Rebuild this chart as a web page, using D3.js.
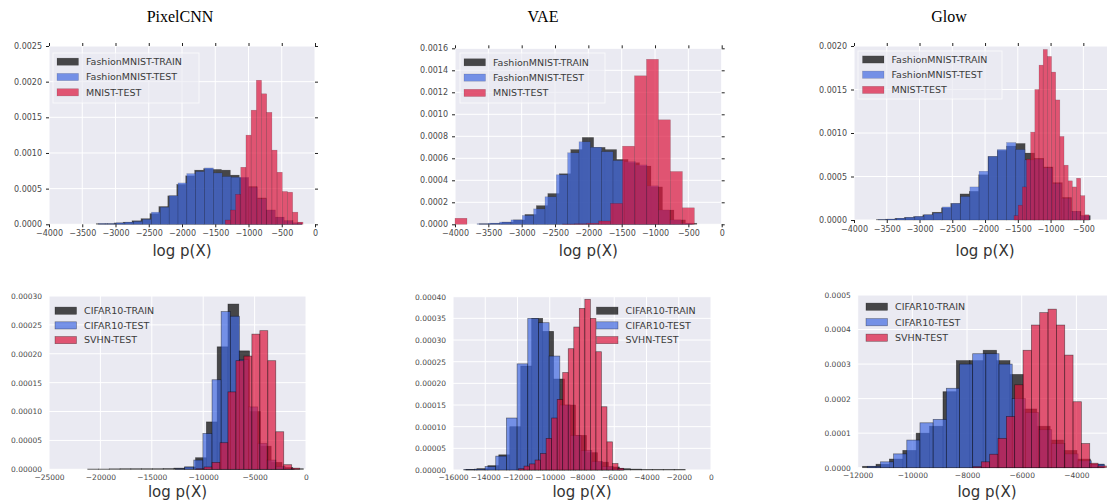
<!DOCTYPE html>
<html>
<head>
<meta charset="utf-8">
<script src="https://cdn.jsdelivr.net/npm/d3@7"></script>
<style>
body { margin: 0; background: #fff; }
svg { display: block; }
</style>
</head>
<body>
<svg id="chart" width="1107" height="504"></svg>
<script>
var titles = ["PixelCNN", "VAE", "Glow"];
var xLabel = "log p(X)";
var topNames = ["FashionMNIST-TRAIN", "FashionMNIST-TEST", "MNIST-TEST"];
var bottomNames = ["CIFAR10-TRAIN", "CIFAR10-TEST", "SVHN-TEST"];

// each histogram: [first bin edge, bin width] + densities per bin
var pcnnFmTrainBins = [-3290, 134.5];
var pcnnFmTrain = [0.00001, 0.00001, 0.00002, 0.00003, 0.00005, 0.00008, 0.00015, 0.00025, 0.0004, 0.00056, 0.00068, 0.00076, 0.00078, 0.00077, 0.00076, 0.00069, 0.00065, 0.00053, 0.00037, 0.0002, 0.0001, 0.00005, 0.00002];
var pcnnFmTestBins = [-3257, 133];
var pcnnFmTest = [0.00001, 0.00001, 0.00002, 0.00003, 0.00004, 0.00007, 0.00017, 0.00024, 0.0004, 0.00058, 0.00071, 0.00074, 0.00079, 0.00072, 0.00067, 0.00066, 0.00066, 0.00052, 0.00036, 0.0002, 0.0001, 0.00005, 0.00002];
var pcnnMnistBins = [-1350, 78];
var pcnnMnist = [0.00006, 0.0002, 0.00042, 0.0008, 0.00125, 0.0016, 0.00202, 0.00183, 0.00157, 0.00104, 0.00073, 0.00046, 0.00045, 0.00017, 0.00003];

var vaeFmTrainBins = [-3640, 172];
var vaeFmTrain = [0.000005, 0.00001, 0.00002, 0.00004, 0.00009, 0.00017, 0.00028, 0.00046, 0.00068, 0.00079, 0.0007, 0.00068, 0.00059, 0.00056, 0.00053, 0.00034, 0.00013, 0.00004, 0.00001];
var vaeFmTestBins = [-3670, 170];
var vaeFmTest = [0.000005, 0.00001, 0.00002, 0.00004, 0.00008, 0.00014, 0.00025, 0.00045, 0.00065, 0.00075, 0.0007, 0.00066, 0.00058, 0.00057, 0.00054, 0.00035, 0.00013, 0.00004, 0.00001];
var vaeMnistBins = [-4000, 179.5];
var vaeMnist = [0.000055, 0, 0, 0, 0, 0, 0, 0, 0, 0.000003, 0.000005, 0.00001, 0.00003, 0.00019, 0.00071, 0.00135, 0.0015, 0.00095, 0.00048, 0.00015];

var glowFmTrainBins = [-3660, 142];
var glowFmTrain = [0.000005, 0.00001, 0.00002, 0.00003, 0.00004, 0.00006, 0.00009, 0.00014, 0.00019, 0.0003, 0.00033, 0.00052, 0.00073, 0.0008, 0.00085, 0.00088, 0.00077, 0.00071, 0.00061, 0.00043, 0.00026, 0.0001, 0.00005];
var glowFmTestBins = [-3631, 140];
var glowFmTest = [0.000005, 0.00001, 0.00002, 0.00003, 0.00004, 0.00006, 0.00008, 0.00015, 0.00019, 0.00027, 0.00038, 0.00056, 0.00073, 0.00081, 0.00089, 0.00081, 0.00069, 0.0007, 0.0006, 0.00042, 0.00025, 0.0001, 0.00005];
var glowMnistBins = [-1558, 63.6];
var glowMnist = [0.00005, 0.00017, 0.00038, 0.0007, 0.00101, 0.0015, 0.00178, 0.00196, 0.00188, 0.0017, 0.00138, 0.00096, 0.00063, 0.00045, 0.00038, 0.00048, 0.00028, 0.00006];

var pcnnCifarTrainBins = [-21240, 1050];
var pcnnCifarTrain = [0.0000005, 0.0000005, 0.0000008, 0.000001, 0.000001, 0.000001, 0.000001, 0.0000012, 0.000002, 0.000004, 0.00002, 0.000082, 0.000212, 0.000286, 0.000205, 0.0001, 0.00004, 0.000012, 0.000003, 0.000001];
var pcnnCifarTestBins = [-12693, 888];
var pcnnCifarTest = [0.000001, 0.000004, 0.000016, 0.000062, 0.000155, 0.000273, 0.000265, 0.00019, 0.000108, 0.000045, 0.000016, 0.000005, 0.000001];
var pcnnSvhnBins = [-10690, 775];
var pcnnSvhn = [0.000001, 0.000004, 0.000012, 0.000046, 0.000134, 0.000188, 0.000196, 0.000234, 0.00024, 0.000188, 0.000065, 0.000008, 0.000002];

var vaeCifarTrainBins = [-15200, 680];
var vaeCifarTrain = [0.000001, 0.000003, 0.00001, 0.000035, 0.0001, 0.00024, 0.00035, 0.00032, 0.00021, 0.00015, 0.00008, 0.00004, 0.000018, 0.000007, 0.000003, 0.000002, 0.000001, 0.000001, 0.000001, 0.000001];
var vaeCifarTestBins = [-15335, 662];
var vaeCifarTest = [0.000001, 0.000002, 0.000008, 0.000032, 0.00012, 0.000245, 0.00035, 0.00034, 0.000263, 0.00015, 0.00008, 0.000045, 0.00002, 0.000008, 0.000003];
var vaeSvhnBins = [-11940, 343];
var vaeSvhn = [0.000003, 0.000009, 0.000014, 0.000023, 0.000038, 0.000073, 0.00012, 0.000163, 0.000225, 0.00028, 0.00033, 0.000373, 0.000394, 0.00035, 0.000273, 0.000146, 0.000065, 0.000015, 0.000004];

var glowCifarTrainBins = [-11820, 490];
var glowCifarTrain = [0.000004, 0.00001, 0.000025, 0.00005, 0.0001, 0.00012, 0.00022, 0.00031, 0.00031, 0.00034, 0.00031, 0.00027, 0.00017, 0.00012, 0.00008, 0.00005, 0.000025, 0.00001];
var glowCifarTestBins = [-11650, 482];
var glowCifarTest = [0.000004, 0.000017, 0.00004, 0.00008, 0.00013, 0.00014, 0.00023, 0.0003, 0.00033, 0.00033, 0.0003, 0.0002, 0.00016, 0.00011, 0.00007, 0.00004, 0.00002, 0.00001];
var glowSvhnBins = [-7782, 305];
var glowSvhn = [0.000003, 0.000017, 0.000039, 0.000085, 0.000148, 0.00024, 0.00034, 0.000413, 0.000449, 0.000459, 0.000413, 0.000326, 0.000191, 0.00007, 0.000013, 0.000005];

// tick values
var ticks4k = [-4000, -3500, -3000, -2500, -2000, -1500, -1000, -500, 0];
var glowTopX = [-4000, -3500, -3000, -2500, -2000, -1500, -1000, -500];
var pcnnTopY = [0, 0.0005, 0.001, 0.0015, 0.002, 0.0025];
var vaeTopY = [0, 0.0002, 0.0004, 0.0006, 0.0008, 0.001, 0.0012, 0.0014, 0.0016];
var glowTopY = [0, 0.0005, 0.001, 0.0015, 0.002];
var pcnnBotX = [-25000, -20000, -15000, -10000, -5000, 0];
var pcnnBotY = [0, 0.00005, 0.0001, 0.00015, 0.0002, 0.00025, 0.0003];
var vaeBotX = [-16000, -14000, -12000, -10000, -8000, -6000, -4000, -2000, 0];
var vaeBotY = [0, 0.00005, 0.0001, 0.00015, 0.0002, 0.00025, 0.0003, 0.00035, 0.0004];
var glowBotX = [-12000, -10000, -8000, -6000, -4000];
var glowBotY = [0, 0.0001, 0.0002, 0.0003, 0.0004, 0.0005];

var COLORS = ["#000000", "#4169E1", "#DC143C"];
var BG = "#EAEAF2";

var svg = d3.select("#chart");

var panels = [
	{ left: 49, right: 315, top: 46, bottom: 224.3, xDomain: [-4000, 0], yMax: 0.0025,
		xTicks: ticks4k, yTicks: pcnnTopY, yFmt: ".4f", topRow: true, names: topNames,
		series: [[pcnnFmTrainBins, pcnnFmTrain], [pcnnFmTestBins, pcnnFmTest], [pcnnMnistBins, pcnnMnist]],
		legend: { x: 57, y: 61.7, step: 15.3, frame: [53, 53, 146, 50] } },
	{ left: 455, right: 721.7, top: 48.3, bottom: 224.3, xDomain: [-4000, 0], yMax: 0.0016,
		xTicks: ticks4k, yTicks: vaeTopY, yFmt: ".4f", topRow: true, names: topNames,
		series: [[vaeFmTrainBins, vaeFmTrain], [vaeFmTestBins, vaeFmTest], [vaeMnistBins, vaeMnist]],
		legend: { x: 464, y: 62.3, step: 15.3, frame: [460, 53, 145, 50] } },
	{ left: 854, right: 1116.1, top: 46, bottom: 220, xDomain: [-4000, 0], yMax: 0.002,
		xTicks: glowTopX, yTicks: glowTopY, yFmt: ".4f", topRow: true, names: topNames,
		series: [[glowFmTrainBins, glowFmTrain], [glowFmTestBins, glowFmTest], [glowMnistBins, glowMnist]],
		legend: { x: 862.5, y: 59.5, step: 15.2, frame: [858, 51, 144, 48] } },
	{ left: 49, right: 306, top: 296, bottom: 469.3, xDomain: [-25000, 0], yMax: 0.0003,
		xTicks: pcnnBotX, yTicks: pcnnBotY, yFmt: ".5f", topRow: false, names: bottomNames,
		series: [[pcnnCifarTrainBins, pcnnCifarTrain], [pcnnCifarTestBins, pcnnCifarTest], [pcnnSvhnBins, pcnnSvhn]],
		legend: { x: 55, y: 310.7, step: 14.7 } },
	{ left: 453, right: 711, top: 296.7, bottom: 470, xDomain: [-16000, 0], yMax: 0.0004,
		xTicks: vaeBotX, yTicks: vaeBotY, yFmt: ".5f", topRow: false, names: bottomNames,
		series: [[vaeCifarTrainBins, vaeCifarTrain], [vaeCifarTestBins, vaeCifarTest], [vaeSvhnBins, vaeSvhn]],
		legend: { x: 596.5, y: 310.7, step: 14.7 } },
	{ left: 857.7, right: 1116.3, top: 295, bottom: 467.7, xDomain: [-12000, -2540], yMax: 0.0005,
		xTicks: glowBotX, yTicks: glowBotY, yFmt: ".4f", topRow: false, names: bottomNames,
		series: [[glowCifarTrainBins, glowCifarTrain], [glowCifarTestBins, glowCifarTest], [glowSvhnBins, glowSvhn]],
		legend: { x: 866, y: 306.7, step: 15.5 } }
];

// turn [start, width] + densities into bin objects
function toBins(s) {
	var start = s[0][0], w = s[0][1];
	return s[1].map(function(v, j) {
		return { x0: start + j * w, x1: start + (j + 1) * w, v: v };
	}).filter(function(b){ return b.v > 0; });
}

function drawPanel(p) {
	var g = svg.append("g");
	var x = d3.scaleLinear().domain(p.xDomain).range([p.left, p.right]);
	var y = d3.scaleLinear().domain([0, p.yMax]).range([p.bottom, p.top]);

	g.append("rect")
		.attr("x", p.left).attr("y", p.top)
		.attr("width", p.right - p.left).attr("height", p.bottom - p.top)
		.attr("fill", BG);

	// white grid
	g.selectAll(".vg").data(p.xTicks).enter().append("line")
		.attr("x1", function(d){ return x(d); }).attr("x2", function(d){ return x(d); })
		.attr("y1", p.top).attr("y2", p.bottom)
		.attr("stroke", "#fff").attr("stroke-width", 1);
	g.selectAll(".hg").data(p.yTicks).enter().append("line")
		.attr("x1", p.left).attr("x2", p.right)
		.attr("y1", function(d){ return y(d); }).attr("y2", function(d){ return y(d); })
		.attr("stroke", "#fff").attr("stroke-width", 1);

	p.series.forEach(function(s, i) {
		g.append("g").selectAll("rect").data(toBins(s)).enter()
			.append("rect")
			.attr("x", function(b){ return x(b.x0); })
			.attr("width", function(b){ return x(b.x1) - x(b.x0); })
			.attr("y", function(b){ return y(b.v); })
			.attr("height", function(b){ return y(0) - y(b.v); })
			.attr("fill", COLORS[i]).attr("fill-opacity", 0.7)
			.attr("stroke", "#000")
			.attr("stroke-opacity", p.topRow ? 0.25 : 0.5)
			.attr("stroke-width", p.topRow ? 0.5 : 0.7);
	});

	var fs = p.topRow ? "8px" : "7.5px";
	var tickLen = p.topRow ? 3 : 0;
	var xAxis = g.append("g").attr("transform", "translate(0," + p.bottom + ")")
		.call(d3.axisBottom(x).tickValues(p.xTicks).tickFormat(d3.format("d")).tickSize(tickLen).tickPadding(p.topRow ? 3 : 5));
	var yAxis = g.append("g").attr("transform", "translate(" + p.left + ",0)")
		.call(d3.axisLeft(y).tickValues(p.yTicks).tickFormat(d3.format(p.yFmt)).tickSize(tickLen).tickPadding(p.topRow ? 4 : 7));
	[xAxis, yAxis].forEach(function(a) {
		a.select(".domain").remove();
		a.selectAll("text").attr("fill", "#4a4a4a").style("font-family", "DejaVu Sans").style("font-size", fs);
		a.selectAll("line").attr("stroke", "#222");
	});

	if (p.topRow) {
		var xt = g.append("g").attr("transform", "translate(0," + p.top + ")")
			.call(d3.axisTop(x).tickValues(p.xTicks).tickFormat("").tickSize(3));
		var yr = g.append("g").attr("transform", "translate(" + p.right + ",0)")
			.call(d3.axisRight(y).tickValues(p.yTicks).tickFormat("").tickSize(3));
		[xt, yr].forEach(function(a) {
			a.select(".domain").remove();
			a.selectAll("line").attr("stroke", "#222");
		});
	}

	g.append("text")
		.attr("x", (p.left + p.right) / 2)
		.attr("y", p.topRow ? 256 : 497)
		.attr("text-anchor", "middle")
		.style("font-family", "DejaVu Sans").style("font-size", "15px")
		.attr("fill", "#333")
		.text(xLabel);

	var L = p.legend;
	if (L.frame) {
		g.append("rect")
			.attr("x", L.frame[0]).attr("y", L.frame[1])
			.attr("width", L.frame[2]).attr("height", L.frame[3])
			.attr("fill", BG).attr("fill-opacity", 0.6)
			.attr("stroke", "#fff").attr("stroke-opacity", 0.7).attr("stroke-width", 1);
	}
	var items = g.selectAll(".leg").data(p.names).enter().append("g")
		.attr("transform", function(d, i){ return "translate(" + L.x + "," + (L.y + i * L.step) + ")"; });
	items.append("rect")
		.attr("x", 0).attr("y", -3.6).attr("width", 21.5).attr("height", 7.2)
		.attr("fill", function(d, i){ return COLORS[i]; }).attr("fill-opacity", 0.7)
		.attr("stroke", "#000").attr("stroke-opacity", p.topRow ? 0.2 : 0.45).attr("stroke-width", 0.6);
	items.append("text")
		.attr("x", 29).attr("dy", "0.35em")
		.style("font-family", "DejaVu Sans").style("font-size", "9.5px")
		.attr("fill", "#3a3a3a")
		.text(function(d){ return d; });
}

function visualize() {
	panels.forEach(drawPanel);
	var titleX = [180, 543, 949];
	svg.selectAll(".title").data(titles).enter().append("text")
		.attr("x", function(d, i){ return titleX[i]; })
		.attr("y", 22)
		.attr("text-anchor", "middle")
		.style("font-family", "Liberation Serif").style("font-size", "16px")
		.attr("fill", "#000")
		.text(function(d){ return d; });
}

visualize();
</script>
</body>
</html>
